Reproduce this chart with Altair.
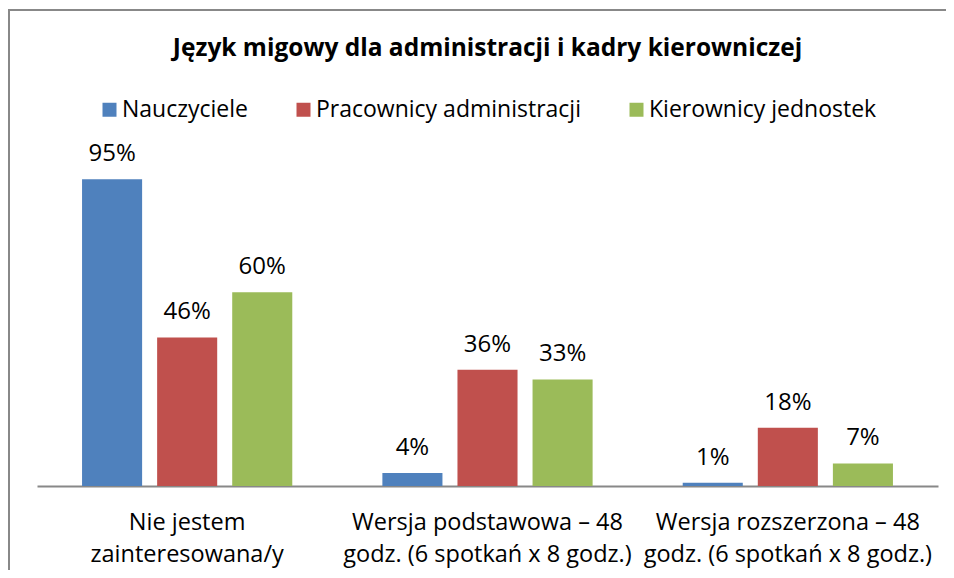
import altair as alt
import pandas as pd

categories = [
    "Nie jestem\nzainteresowana/y",
    "Wersja podstawowa – 48\ngodz. (6 spotkań x 8 godz.)",
    "Wersja rozszerzona – 48\ngodz. (6 spotkań x 8 godz.)",
]
series = ["Nauczyciele", "Pracownicy administracji", "Kierownicy jednostek"]
colors = ["#4F81BD", "#C0504D", "#9BBB59"]
nauczyciele = [95, 4, 1]
pracownicy = [46, 36, 18]
kierownicy = [60, 33, 7]

rows = []
for s, vals in zip(series, [nauczyciele, pracownicy, kierownicy]):
    for c, v in zip(categories, vals):
        rows.append({"category": c, "series": s, "value": v})
df = pd.DataFrame(rows)

FONT = "Open Sans"

base = alt.Chart(df).encode(
    x=alt.X(
        "category:N",
        sort=categories,
        title=None,
        scale=alt.Scale(paddingInner=0, paddingOuter=0),
        axis=alt.Axis(
            labelExpr="split(datum.label, '\\n')",
            labelAngle=0,
            labelFont=FONT,
            labelFontSize=23.5,
            labelColor="black",
            labelLineHeight=32,
            labelBaseline="top",
            labelPadding=24,
            ticks=False,
            grid=False,
            domainColor="#888888",
            domainWidth=2,
            labelLimit=0,
        ),
    ),
    xOffset=alt.XOffset(
        "series:N",
        sort=series,
        scale=alt.Scale(paddingInner=0.2, paddingOuter=0.6),
    ),
    y=alt.Y("value:Q", scale=alt.Scale(domain=[0, 100], nice=False), axis=None),
)

bars = base.mark_bar().encode(
    color=alt.Color(
        "series:N",
        sort=series,
        scale=alt.Scale(domain=series, range=colors),
        legend=alt.Legend(
            orient="none",
            legendX=61,
            legendY=-65,
            direction="horizontal",
            title=None,
            symbolType="square",
            symbolSize=196,
            symbolStrokeWidth=0,
            symbolOpacity=1,
            labelFont=FONT,
            labelFontSize=23,
            labelColor="black",
            labelOffset=1,
            columnPadding=44,
            labelLimit=0,
        ),
    )
)

labels = base.transform_calculate(label="datum.value + '%'").mark_text(
    font=FONT, fontSize=24, color="black", baseline="alphabetic", dy=-18
).encode(text="label:N")

one = pd.DataFrame({"a": [0]})
top_line = alt.Chart(one).mark_rect(color="#888888").encode(
    x=alt.value(-29), x2=alt.value(909), y=alt.value(-154), y2=alt.value(-152)
)
left_line = alt.Chart(one).mark_rect(color="#888888").encode(
    x=alt.value(-29), x2=alt.value(-27), y=alt.value(-154), y2=alt.value(407)
)

chart = alt.layer(top_line, left_line, bars, labels).properties(
    width=901,
    height=323,
    autosize=alt.AutoSizeParams(type="none"),
    padding={"left": 29, "top": 155, "right": 8, "bottom": 84},
    title=alt.TitleParams(
        "Język migowy dla administracji i kadry kierowniczej",
        font=FONT,
        fontSize=24.5,
        fontWeight="bold",
        color="black",
        anchor="middle",
        baseline="alphabetic",
        offset=-71,
    ),
).configure_view(stroke=None)

chart.save("out.html", embed_options={"renderer": "svg", "actions": False})
